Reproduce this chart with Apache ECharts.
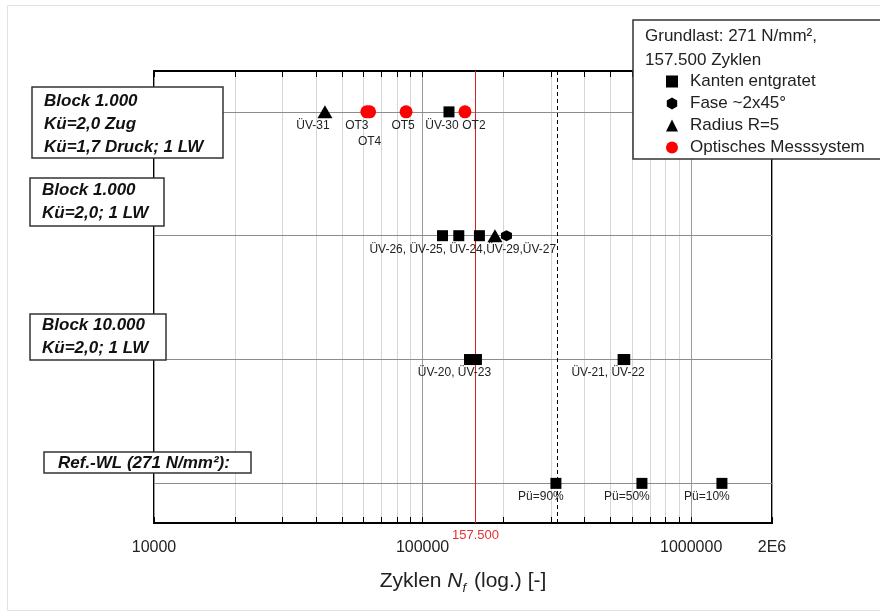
<!DOCTYPE html>
<html>
<head>
<meta charset="utf-8">
<script src="https://cdn.jsdelivr.net/npm/echarts@6/dist/echarts.min.js"></script>
<style>
  html, body { margin: 0; padding: 0; background: #fff; }
  #chart { width: 880px; height: 613px; }
</style>
</head>
<body>
<div id="chart"></div>
<script>
// Zyklen (Nf) je Versuch, Zeile = Block (4 oben ... 1 = Ref.-WL)
var kantenN = [125400, 118600, 136400, 162800, 149500, 158700, 558000, 566000, 313700, 655800, 1302000];
var kantenRow = [4, 3, 3, 3, 2, 2, 2, 2, 1, 1, 1];
var kantenLabels = ['ÜV-30', '', 'ÜV-26, ÜV-25, ÜV-24,ÜV-29,ÜV-27', '', 'ÜV-20, ÜV-23', '', 'ÜV-21, ÜV-22', '', 'Pü=90%', 'Pü=50%', 'Pü=10%'];

var faseN = [205300];
var faseRow = [3];
var faseLabels = [''];

var radiusN = [43300, 186000];
var radiusRow = [4, 3];
var radiusLabels = ['ÜV-31', ''];

var optN = [62000, 63500, 86800, 143800];
var optRow = [4, 4, 4, 4];
var optLabels = ['OT3', 'OT4', 'OT5', 'OT2'];

var seriesNames = ['Kanten entgratet', 'Fase ~2x45°', 'Radius R=5', 'Optisches Messsystem'];
var grundlastN = 157500;
var puN = 316000;
var rowLines = [1, 2, 3, 4];
var xMin = 10000, xMax = 2000000;
// Nebenteilung (2..9 je Dekade)
var minorTicks = [];
[10000, 100000, 1000000].forEach(function (d) {
    for (var k = 2; k <= 9; k++) { if (d * k < xMax) minorTicks.push(d * k); }
});

//Beschriftungs-Versatz (Pixel) relativ zum Punkt
var labelOffset = {
    'ÜV-31': [-12, 14], 'OT3': [-10, 14], 'OT4': [0, 30], 'OT5': [-3, 14],
    'ÜV-30': [-7, 14], 'OT2': [9, 14],
    'ÜV-26, ÜV-25, ÜV-24,ÜV-29,ÜV-27': [4, 14],
    'ÜV-20, ÜV-23': [-15, 13], 'ÜV-21, ÜV-22': [-15, 13],
    'Pü=90%': [-15, 13], 'Pü=50%': [-15, 13], 'Pü=10%': [-15, 13]
};

var FONT = 'Liberation Sans, Arial, sans-serif';
var hexPath = 'path://M0,-1 L0.866,-0.5 L0.866,0.5 L0,1 L-0.866,0.5 L-0.866,-0.5 Z';
var legendIcons = ['rect', hexPath, 'triangle', 'circle'];

function buildData(ns, rows, labels){
    var out = [];
    for (var i = 0; i < ns.length; i++) {
        var lbl = labels[i];
        var item = { value: [ns[i], rows[i]] };
        if (lbl) {
            item.label = { show: true, formatter: lbl, position: 'inside', offset: labelOffset[lbl] };
        }
        out.push(item);
    }
    return out;
}

var pointLabel = { show: false, color: '#222', fontSize: 12, fontFamily: FONT };

var chart = echarts.init(document.getElementById('chart'));
var option = {
    animation: false,
    backgroundColor: '#fff',
    grid: { left: 154, right: 108, top: 71, bottom: 90, show: true, borderColor: '#000', borderWidth: 2, backgroundColor: 'transparent' },
    xAxis: [{
        type: 'log',
        logBase: 10,
        min: xMin,
        max: xMax,
        axisLine: { lineStyle: { color: '#000', width: 2 } },
        axisTick: { inside: true, length: 6, lineStyle: { color: '#000', width: 1 } },
        splitLine: { show: true, lineStyle: { color: '#9a9a9a', width: 1 } },
        axisLabel: {
            fontSize: 16, color: '#222', fontFamily: FONT, margin: 17,
            formatter: function (v) { return v > 1500000 ? '2E6' : String(Math.round(v)); }
        },
        name: '{a|Zyklen }{i|N}{s|f}{a| (log.) [-]}',
        nameLocation: 'middle',
        nameGap: 45,
        nameTextStyle: {
            rich: {
                a: { fontSize: 21, color: '#222', fontFamily: FONT },
                i: { fontSize: 21, color: '#222', fontFamily: FONT, fontStyle: 'italic' },
                s: { fontSize: 13, color: '#222', fontFamily: FONT, fontStyle: 'italic', padding: [14, 2, 0, 0] }
            }
        }
    }, {
        type: 'log',
        logBase: 10,
        min: xMin,
        max: xMax,
        position: 'top',
        axisLine: { lineStyle: { color: '#000', width: 2 } },
        axisTick: { inside: true, length: 6, lineStyle: { color: '#000', width: 1 } },
        axisLabel: { show: false },
        splitLine: { show: false }
    }],
    yAxis: {
        type: 'value', min: 0.68, max: 4.33, show: false
    },
    legend: {
        data: seriesNames.map(function (n, i) { return { name: n, icon: legendIcons[i] }; }),
        orient: 'vertical',
        left: 661,
        top: 68,
        itemWidth: 12,
        itemHeight: 12,
        itemGap: 5,
        z: 11,
        textStyle: { fontSize: 17, color: '#222', fontFamily: FONT, padding: [0, 0, 0, 7] }
    },
    series: [
        {
            //Nebengitter + Teilstriche
            type: 'custom',
            silent: true,
            z: 1,
            data: minorTicks.map(function (v) { return [v, 1]; }),
            renderItem: function (params, api) {
                var p = api.coord([api.value(0), 1]);
                var cs = params.coordSys;
                var x = Math.round(p[0]) + 0.5;
                return {
                    type: 'group',
                    children: [
                        { type: 'line', shape: { x1: x, y1: cs.y, x2: x, y2: cs.y + cs.height }, style: { stroke: '#d6d6d6', lineWidth: 1 } },
                        { type: 'line', shape: { x1: x, y1: cs.y + cs.height - 6, x2: x, y2: cs.y + cs.height }, style: { stroke: '#000', lineWidth: 1 } },
                        { type: 'line', shape: { x1: x, y1: cs.y, x2: x, y2: cs.y + 6 }, style: { stroke: '#000', lineWidth: 1 } }
                    ]
                };
            },
            markLine: {
                silent: true,
                symbol: ['none', 'none'],
                label: { show: false },
                lineStyle: { color: '#8c8c8c', width: 1, type: 'solid' },
                data: rowLines.map(function (r) { return { yAxis: r }; })
            }
        },
        {
            name: seriesNames[0],
            type: 'scatter',
            z: 5,
            symbol: 'rect',
            symbolSize: 11,
            itemStyle: { color: '#000', opacity: 1 },
            label: pointLabel,
            data: buildData(kantenN, kantenRow, kantenLabels),
            markLine: {
                silent: true,
                symbol: ['none', 'none'],
                data: [
                    { xAxis: grundlastN, lineStyle: { color: '#d42020', width: 1, type: 'solid' },
                      label: { show: true, position: 'start', distance: 6, formatter: '157.500', color: '#e83030', fontSize: 13, fontFamily: FONT } },
                    { xAxis: puN, lineStyle: { color: '#000', width: 1, type: [4, 3] }, label: { show: false } }
                ]
            }
        },
        {
            name: seriesNames[1],
            type: 'scatter',
            z: 5,
            symbol: hexPath,
            symbolSize: 11,
            itemStyle: { color: '#000', opacity: 1 },
            label: pointLabel,
            data: buildData(faseN, faseRow, faseLabels)
        },
        {
            name: seriesNames[2],
            type: 'scatter',
            z: 5,
            symbol: 'triangle',
            symbolSize: [15, 13],
            itemStyle: { color: '#000', opacity: 1 },
            label: pointLabel,
            data: buildData(radiusN, radiusRow, radiusLabels)
        },
        {
            name: seriesNames[3],
            type: 'scatter',
            z: 5,
            symbol: 'circle',
            symbolSize: 13,
            itemStyle: { color: '#ff0000', opacity: 1 },
            label: pointLabel,
            data: buildData(optN, optRow, optLabels)
        }
    ],
    graphic: [
        //äußerer Rahmen
        { type: 'rect', z: 0, silent: true, shape: { x: 7.5, y: 5.5, width: 880, height: 605 }, style: { fill: 'none', stroke: '#e2e2e2', lineWidth: 1 } },
        //Legendenkasten
        { type: 'rect', z: 10, shape: { x: 633, y: 20, width: 260, height: 139 }, style: { fill: '#fff', stroke: '#333', lineWidth: 1.5 } },
        { type: 'text', z: 11, x: 645, y: 24, style: { text: 'Grundlast: 271 N/mm²,\n157.500 Zyklen', fontSize: 17, lineHeight: 24, fontFamily: FONT, fill: '#222', verticalAlign: 'top' } },
        //Blockbeschriftungen
        { type: 'rect', z: 10, shape: { x: 32, y: 87, width: 191, height: 71 }, style: { fill: '#fff', stroke: '#333', lineWidth: 1.5 } },
        { type: 'text', z: 11, x: 44, y: 89.5, style: { text: 'Block 1.000\nKü=2,0 Zug\nKü=1,7 Druck; 1 LW', fontSize: 17, lineHeight: 23, fontStyle: 'italic', fontWeight: 'bold', fontFamily: FONT, fill: '#111', verticalAlign: 'top' } },
        { type: 'rect', z: 10, shape: { x: 30, y: 178, width: 134, height: 48 }, style: { fill: '#fff', stroke: '#333', lineWidth: 1.5 } },
        { type: 'text', z: 11, x: 42, y: 178.5, style: { text: 'Block 1.000\nKü=2,0; 1 LW', fontSize: 17, lineHeight: 23, fontStyle: 'italic', fontWeight: 'bold', fontFamily: FONT, fill: '#111', verticalAlign: 'top' } },
        { type: 'rect', z: 10, shape: { x: 30, y: 314, width: 136, height: 46 }, style: { fill: '#fff', stroke: '#333', lineWidth: 1.5 } },
        { type: 'text', z: 11, x: 42, y: 314, style: { text: 'Block 10.000\nKü=2,0; 1 LW', fontSize: 17, lineHeight: 23, fontStyle: 'italic', fontWeight: 'bold', fontFamily: FONT, fill: '#111', verticalAlign: 'top' } },
        { type: 'rect', z: 10, shape: { x: 44, y: 452, width: 207, height: 21 }, style: { fill: '#fff', stroke: '#333', lineWidth: 1.5 } },
        { type: 'text', z: 11, x: 58, y: 463, style: { text: 'Ref.-WL (271 N/mm²):', fontSize: 17, fontStyle: 'italic', fontWeight: 'bold', fontFamily: FONT, fill: '#111', verticalAlign: 'middle' } }
    ]
};
chart.setOption(option);
</script>
</body>
</html>
